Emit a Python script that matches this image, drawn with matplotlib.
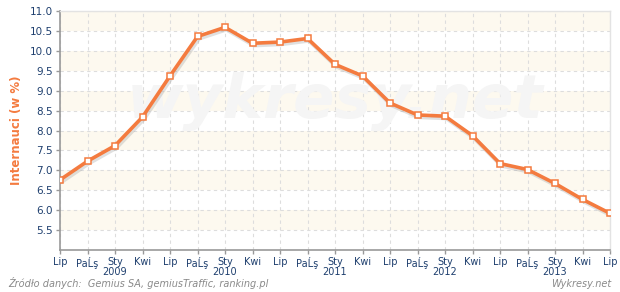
import numpy as np
import matplotlib
matplotlib.use('Agg')
import matplotlib.pyplot as plt
import matplotlib.patheffects as pe

# quarterly values, Lip 2008 .. Lip 2013
labels = ['Lip', 'PaĹş', 'Sty\n2009', 'Kwi',
          'Lip', 'PaĹş', 'Sty\n2010', 'Kwi',
          'Lip', 'PaĹş', 'Sty\n2011', 'Kwi',
          'Lip', 'PaĹş', 'Sty\n2012', 'Kwi',
          'Lip', 'PaĹş', 'Sty\n2013', 'Kwi',
          'Lip']
values = [6.76, 7.23, 7.62, 8.34, 9.37, 10.36, 10.59, 10.19, 10.22, 10.31,
          9.66, 9.37, 8.69, 8.39, 8.36, 7.87, 7.17, 7.02, 6.67, 6.27, 5.92]
yticks = [5.5, 6.0, 6.5, 7.0, 7.5, 8.0, 8.5, 9.0, 9.5, 10.0, 10.5, 11.0]

orange = '#f47b3f'
navy = '#1e3f6e'

fig = plt.figure(figsize=(6.2, 2.92), dpi=100)
ax = fig.add_axes([60/620, 1-250/292, 550/620, 239/292])

x = np.arange(len(values))
ax.set_xlim(0, len(values)-1)
ax.set_ylim(5.0, 11.0)

# alternating bands
for lo in [5.5, 6.5, 7.5, 8.5, 9.5, 10.5]:
    ax.axhspan(lo, lo+0.5, color='#fdf9ef', zorder=0, lw=0)

ax.text(0.5, 0.62, 'wykresy.net', transform=ax.transAxes, ha='center', va='center',
        fontsize=44, fontweight='bold', style='italic', color='#f5f5f5', zorder=1)

ax.grid(True, ls=(0, (3, 3)), color='#dddddd', lw=0.8, zorder=1)
ax.set_axisbelow(True)

ax.plot(x, values, color=orange, lw=2.6, zorder=3, solid_capstyle='round',
        path_effects=[pe.SimpleLineShadow(offset=(1, -1.5), shadow_color='#999999', alpha=0.3, linewidth=3),
                      pe.Normal()])
ax.plot(x, values, ls='none', marker='s', ms=5, mfc='white', mec=orange, mew=1.1, zorder=4)

ax.set_xticks(x)
ax.set_xticklabels(labels, fontsize=7, color=navy, linespacing=1.0)
ax.set_yticks(yticks)
ax.set_yticklabels(['%.1f' % v for v in yticks], fontsize=7.5, color=navy)
ax.tick_params(axis='both', length=3, color='#999999', width=1)
ax.tick_params(axis='y', pad=2)
ax.tick_params(axis='x', pad=2)

for s in ['left', 'bottom']:
    ax.spines[s].set_color('#999999')
    ax.spines[s].set_linewidth(1.2)
for s in ['top', 'right']:
    ax.spines[s].set_color('#e3e3e3')
    ax.spines[s].set_linewidth(1)

ax.set_ylabel('Internauci (w %)', fontsize=8.5, fontweight='bold', color=orange)
ax.yaxis.set_label_coords(-0.068, 0.5)

fig.text(8/620, 1-287/292, 'Źródło danych:  Gemius SA, gemiusTraffic, ranking.pl',
         fontsize=7, style='italic', color='#8a8a8a', ha='left', va='baseline')
fig.text(611/620, 1-287/292, 'Wykresy.net', fontsize=7, style='italic',
         color='#8a8a8a', ha='right', va='baseline')

fig.savefig('out.png', dpi=100)
